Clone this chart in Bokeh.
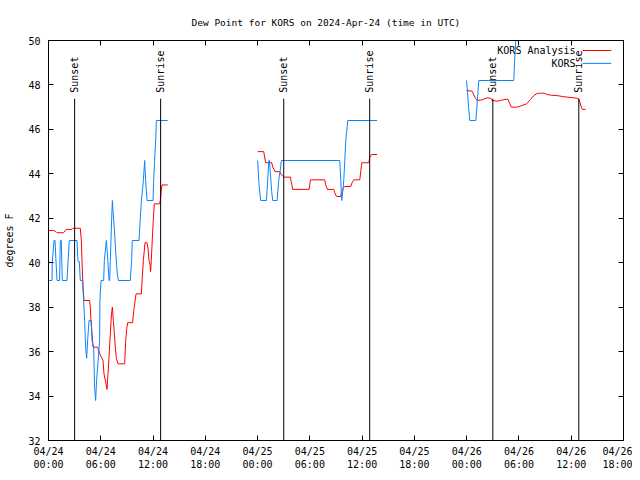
import math
from bokeh.plotting import figure
from bokeh.models import Range1d, FixedTicker, LinearAxis, Label, Arrow, CustomJSTickFormatter
from bokeh.core.properties import value
from bokeh.embed import file_html
from bokeh.resources import INLINE

nan = float("nan")

title_text = "Dew Point for KORS on 2024-Apr-24 (time in UTC)"
y_axis_label = "degrees F"

# x axis: hours since 2024-04-24 00:00 UTC
x_ticks = [0, 6, 12, 18, 24, 30, 36, 42, 48, 54, 60, 66]
x_tick_labels = ["04/24\n00:00", "04/24\n06:00", "04/24\n12:00", "04/24\n18:00",
                 "04/25\n00:00", "04/25\n06:00", "04/25\n12:00", "04/25\n18:00",
                 "04/26\n00:00", "04/26\n06:00", "04/26\n12:00", "04/26\n18:00"]
y_ticks = [32, 34, 36, 38, 40, 42, 44, 46, 48, 50]

series_names = ["KORS Analysis", "KORS"]
series_colors = ["#ff0000", "#0a84ff"]

# KORS Analysis (red)
analysis_hours = [
    0.00, 0.59, 0.86, 0.98, 1.73, 2.04, 2.70, 2.81, 3.65, 3.77, 3.85, 3.96, 4.08,
    4.72, 4.80, 4.88, 5.00, 5.11, 5.64, 5.87, 6.26, 6.37, 6.60, 6.72, 6.83, 6.98,
    7.10, 7.21, 7.33, 7.44, 7.56, 7.67, 7.79, 7.98, 8.74, 8.85, 8.97, 9.08, 9.66,
    9.77, 10.05, 10.66, 10.77, 10.89, 11.08, 11.31, 11.43, 11.54, 11.66, 11.72,
    11.80, 11.92, 12.04, 12.15, 12.76, 12.87, 12.95, 13.03, 13.68,
    nan,
    24.01, 24.70, 24.93, 25.62, 25.74, 26.01, 26.54, 26.74, 27.08, 27.77, 27.88,
    28.03, 29.92, 30.06, 31.70, 31.82, 32.02, 32.74, 32.90, 33.08, 33.54, 33.66,
    33.89, 34.00, 34.69, 34.85, 35.04, 35.73, 35.84, 35.96, 36.76, 36.88, 37.07,
    37.72,
    nan,
    47.98, 48.63, 48.82, 49.01, 49.21, 49.78, 49.97, 50.36, 50.74, 50.93, 51.51,
    51.89, 52.27, 52.73, 52.96, 53.12, 53.81, 54.18, 54.87, 55.33, 55.71, 56.10,
    56.48, 56.86, 57.25, 57.63, 58.40, 59.15, 60.30, 60.69, 60.92, 61.07, 61.27,
    61.64,
]
analysis_dewpt = [
    41.45, 41.45, 41.40, 41.35, 41.35, 41.50, 41.50, 41.55, 41.55, 41.00, 40.05, 38.90, 38.30,
    38.30, 38.00, 37.30, 36.80, 36.20, 36.20, 35.90, 35.60, 35.00, 34.55, 34.30, 35.00, 36.00,
    36.80, 37.60, 38.00, 37.40, 36.80, 36.20, 35.70, 35.45, 35.45, 36.40, 37.00, 37.30, 37.30,
    37.80, 38.60, 38.60, 39.40, 40.10, 40.90, 40.90, 40.60, 40.10, 39.90, 39.60,
    40.10, 41.10, 42.00, 42.65, 42.65, 42.90, 43.30, 43.50, 43.50,
    nan,
    45.00, 45.00, 44.50, 44.50, 44.30, 44.10, 44.10, 43.95, 43.85, 43.85, 43.60,
    43.30, 43.30, 43.73, 43.73, 43.50, 43.30, 43.30, 43.10, 42.98, 42.98, 43.20,
    43.40, 43.43, 43.43, 43.60, 43.73, 43.73, 44.10, 44.50, 44.50, 44.75, 44.87,
    44.87,
    nan,
    47.75, 47.72, 47.55, 47.40, 47.30, 47.33, 47.36, 47.42, 47.40, 47.30, 47.27,
    47.30, 47.34, 47.36, 47.15, 47.00, 47.00, 47.05, 47.15, 47.35, 47.52, 47.62,
    47.63, 47.63, 47.57, 47.54, 47.52, 47.47, 47.42, 47.40, 47.35, 47.10, 46.90,
    46.90,
]

# KORS observations (blue)
kors_hours = [
    0.00, 0.40, 0.44, 0.63, 0.75, 0.86, 0.98, 1.27, 1.36, 1.47, 1.58, 2.12, 2.24,
    2.39, 3.27, 3.39, 3.54, 3.65, 3.92, 4.03, 4.15, 4.26, 4.38, 4.49, 4.65, 4.92,
    5.00, 5.18, 5.29, 5.41, 5.52, 5.64, 5.87, 5.90, 6.03, 6.33, 6.41, 6.64, 6.75,
    6.95, 7.02, 7.10, 7.25, 7.33, 7.41, 7.56, 7.71, 7.87, 8.02, 9.39, 9.54, 9.62,
    10.39, 10.46, 10.54, 10.66, 10.77, 10.89, 11.04, 11.15, 11.31, 12.00, 12.07,
    12.18, 12.30, 12.38, 13.68,
    nan,
    24.01, 24.13, 24.24, 24.36, 25.01, 25.16, 25.28, 25.36, 25.47, 25.62, 25.73,
    26.24, 26.42, 26.62, 26.73, 33.43, 33.55, 33.63, 33.66, 33.78, 33.89, 34.01,
    34.12, 34.28, 34.35, 37.72,
    nan,
    47.98, 48.13, 48.21, 48.36, 49.05, 49.17, 49.28, 49.39, 53.41, 53.49, 53.64,
    53.72, 61.64,
]
kors_dewpt = [
    39.2, 39.2, 40.05, 41.0, 41.0, 40.05, 39.2, 39.2, 41.0, 41.0, 39.2, 39.2, 40.05,
    41.0, 41.0, 40.05, 40.05, 39.2, 39.2, 38.3, 37.4, 36.2, 35.7, 36.5, 37.4, 37.4,
    36.5, 36.2, 34.4, 33.8, 34.7, 35.3, 36.5, 38.3, 39.2, 39.2, 40.1, 41.0, 40.5,
    39.2, 39.2, 40.1, 42.0, 42.8, 42.3, 41.5, 40.5, 39.6, 39.2, 39.2, 40.1, 41.0,
    41.0, 41.5, 42.0, 42.8, 43.2, 43.7, 44.6, 43.7, 42.8, 42.8, 43.7,
    44.6, 45.5, 46.4, 46.4,
    nan,
    44.6, 43.7, 43.2, 42.8, 42.8, 43.7, 44.6, 44.6, 44.0, 43.2, 42.8,
    42.8, 43.7, 44.2, 44.6, 44.6, 43.7, 42.9, 42.8, 43.2, 43.7, 44.6,
    45.5, 46.1, 46.4, 46.4,
    nan,
    48.2, 47.5, 47.0, 46.4, 46.4, 47.0, 47.6, 48.2, 48.2, 49.0, 50.0,
    51.8, 51.8,
]

# sunset / sunrise markers (hours UTC)
sun_hours = [3.0, 12.87, 27.0, 36.87, 51.0, 60.87]
sun_labels = ["Sunset", "Sunrise", "Sunset", "Sunrise", "Sunset", "Sunrise"]
sun_line_top = 47.38
sun_text_base = 47.65

FONT = "DejaVu Sans Mono"
FS = "10px"

p = figure(width=632, height=472, output_backend="svg", toolbar_location=None,
           x_range=Range1d(0, 66), y_range=Range1d(32, 50),
           min_border_left=48, min_border_right=9, min_border_top=40,
           min_border_bottom=32, background_fill_color="white",
           border_fill_color="white")
p.title.text = title_text
p.title.text_font = FONT
p.title.text_font_size = "9.5px"
p.title.text_font_style = "normal"
p.title.text_color = "black"
p.title.align = "left"
p.title.offset = 143
p.title.standoff = 25
p.grid.visible = False
p.outline_line_color = "black"
p.outline_line_width = 1

xt = FixedTicker(ticks=x_ticks, minor_ticks=[])
yt = FixedTicker(ticks=y_ticks, minor_ticks=[])

p.xaxis.ticker = xt
p.xaxis.major_label_overrides = {t: l for t, l in zip(x_ticks, x_tick_labels)}
p.yaxis.ticker = yt
p.yaxis.axis_label = y_axis_label

for ax in p.xaxis + p.yaxis:
    ax.major_tick_in = 5
    ax.major_tick_out = 0
    ax.minor_tick_in = 0
    ax.minor_tick_out = 0
    ax.axis_line_color = "black"
    ax.major_tick_line_color = "black"
    ax.major_label_text_font = FONT
    ax.major_label_text_font_size = FS
    ax.major_label_text_color = "black"
    ax.axis_label_text_font = FONT
    ax.axis_label_text_font_size = FS
    ax.axis_label_text_font_style = "normal"
    ax.axis_label_text_color = "black"
p.xaxis.major_label_standoff = 5
p.yaxis.major_label_standoff = 8
p.yaxis.axis_label_standoff = 10

blank = CustomJSTickFormatter(code="return ''")
for loc, tick in (("right", yt), ("above", xt)):
    ax = LinearAxis(ticker=tick, major_tick_in=5, major_tick_out=0,
                    minor_tick_in=0, minor_tick_out=0, formatter=blank,
                    major_label_standoff=0, axis_line_color="black")
    p.add_layout(ax, loc)

# data lines
p.line(analysis_hours, analysis_dewpt, line_color=series_colors[0], line_width=1)
p.line(kors_hours, kors_dewpt, line_color=series_colors[1], line_width=1)

# sunset / sunrise
p.segment(x0=sun_hours, y0=[32] * len(sun_hours), x1=sun_hours,
          y1=[sun_line_top] * len(sun_hours), line_color="black", line_width=1)
p.text(x=sun_hours, y=[sun_text_base] * len(sun_hours), text=sun_labels,
       angle=math.pi / 2, text_align="left", text_baseline="middle",
       text_font=value(FONT), text_font_size=FS, text_color="black")

# legend (gnuplot style: label then sample)
leg_text_x = 60.5
leg_rows = [49.55, 48.97]
for name, col, yy in zip(series_names, series_colors, leg_rows):
    p.add_layout(Label(x=leg_text_x, y=yy, text=name, text_align="right",
                       text_baseline="middle", text_font=FONT,
                       text_font_size=FS, text_color="black"))
    p.add_layout(Arrow(end=None, x_start=61.3, y_start=yy, x_end=64.6, y_end=yy,
                       line_color=col, line_width=1))

html = file_html(p, INLINE)
open("out.html", "w").write(html)
